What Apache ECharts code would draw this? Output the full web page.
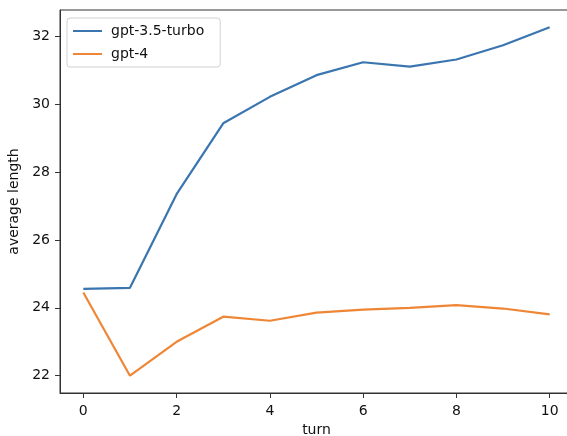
<!DOCTYPE html>
<html>
<head>
<meta charset="utf-8">
<script src="https://cdn.jsdelivr.net/npm/echarts@6/dist/echarts.min.js"></script>
<style>
html,body{margin:0;padding:0;background:#fff;}
#chart{width:567px;height:436px;}
</style>
</head>
<body>
<div id="chart"></div>
<script>
const turns = [0,1,2,3,4,5,6,7,8,9,10];
const gpt35 = [24.56,24.59,27.35,29.44,30.22,30.86,31.24,31.11,31.32,31.74,32.27];
const gpt4 = [24.45,22.00,23.00,23.74,23.62,23.86,23.95,24.00,24.08,23.98,23.81];
const xTicks = [0,2,4,6,8,10];
const yTicks = [22,24,26,28,30,32];
const seriesNames = ['gpt-3.5-turbo','gpt-4'];

const font = 'DejaVu Sans';
const axisColor = '#333';
const textColor = '#111';
const chart = echarts.init(document.getElementById('chart'), null, {renderer:'canvas'});
chart.setOption({
  animation:false,
  backgroundColor:'#fff',
  grid:{left:60, top:10, width:513, height:383, containLabel:false, outerBoundsMode:'none',
        show:true, borderColor:axisColor, borderWidth:1},
  legend:{
    orient:'vertical', left:67, top:18,
    data:seriesNames,
    icon:'rect', itemWidth:29, itemHeight:2, itemGap:9,
    padding:[6,16,6,6],
    borderColor:'#d0d0d0', borderWidth:1, borderRadius:3,
    backgroundColor:'rgba(255,255,255,0.8)',
    textStyle:{fontFamily:font, fontSize:14, color:textColor, padding:[0,0,0,4]}
  },
  xAxis:{
    type:'value', min:-0.5, max:10.5,
    name:'turn', nameLocation:'middle', nameGap:28,
    nameTextStyle:{fontFamily:font, fontSize:14, color:textColor},
    axisLine:{show:true, onZero:false, lineStyle:{color:axisColor, width:1}},
    axisTick:{show:true, length:5, inside:false, customValues:xTicks, lineStyle:{color:axisColor}},
    axisLabel:{customValues:xTicks, fontFamily:font, fontSize:14, color:textColor, margin:11},
    splitLine:{show:false}
  },
  yAxis:{
    type:'value', min:21.49, max:32.78,
    name:'average length', nameLocation:'middle', nameGap:35, nameRotate:90,
    nameTextStyle:{fontFamily:font, fontSize:14, color:textColor},
    axisLine:{show:true, onZero:false, lineStyle:{color:axisColor, width:1}},
    axisTick:{show:true, length:5, inside:false, customValues:yTicks, lineStyle:{color:axisColor}},
    axisLabel:{customValues:yTicks, fontFamily:font, fontSize:14, color:textColor, margin:10},
    splitLine:{show:false}
  },
  series:[
    {name:seriesNames[0], type:'line', data:turns.map((t,i)=>[t,gpt35[i]]), showSymbol:false, symbol:'none',
     lineStyle:{color:'#3a75b0', width:2.2}, itemStyle:{color:'#3a75b0'}},
    {name:seriesNames[1], type:'line', data:turns.map((t,i)=>[t,gpt4[i]]), showSymbol:false, symbol:'none',
     lineStyle:{color:'#ef8636', width:2.2}, itemStyle:{color:'#ef8636'}}
  ]
});
</script>
</body>
</html>
